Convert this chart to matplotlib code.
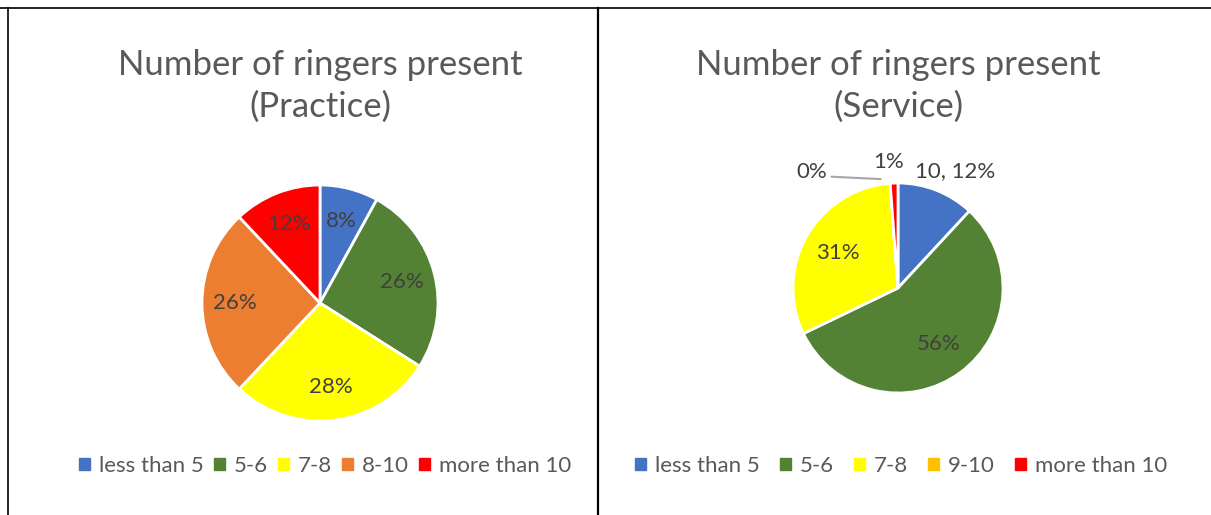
import matplotlib
matplotlib.use('Agg')
import matplotlib.pyplot as plt
from matplotlib.patches import Patch
from matplotlib.lines import Line2D
import numpy as np

plt.rcParams['font.family'] = ['Lato', 'DejaVu Sans']

# данные
categories_practice = ['less than 5', '5-6', '7-8', '8-10', 'more than 10']
values_practice = [8, 26, 28, 26, 12]
colors_practice = ['#4472C4', '#548235', '#FFFF00', '#ED7D31', '#FF0000']

categories_service = ['less than 5', '5-6', '7-8', '9-10', 'more than 10']
values_service = [10, 47, 26, 0, 1]
colors_service = ['#4472C4', '#548235', '#FFFF00', '#FFC000', '#FF0000']

W, H = 1211, 515
fig = plt.figure(figsize=(W / 100, H / 100), dpi=100)
txt = '#404040'
ttl = '#595959'
fs = 16


def px_axes(cx, cy, r):
    return fig.add_axes([(cx - r) / W, (H - cy - r) / H, 2 * r / W, 2 * r / H])


def mid(w):
    return np.deg2rad((w.theta1 + w.theta2) / 2)


# левая диаграмма
ax1 = px_axes(320, 303, 118)
w1, _ = ax1.pie(values_practice, colors=colors_practice, startangle=90, counterclock=False,
                wedgeprops=dict(edgecolor='white', linewidth=2), radius=1)
ax1.set_xlim(-1, 1)
ax1.set_ylim(-1, 1)
tot = sum(values_practice)
for w, v in zip(w1, values_practice):
    a = mid(w)
    ax1.text(0.72 * np.cos(a), 0.72 * np.sin(a), '%d%%' % round(100 * v / tot),
             ha='center', va='center', fontsize=fs, color=txt)

# правая диаграмма
ax2 = px_axes(898, 288, 105)
w2, _ = ax2.pie(values_service, colors=colors_service, startangle=90, counterclock=False,
                wedgeprops=dict(edgecolor='white', linewidth=2), radius=1)
ax2.set_xlim(-1, 1)
ax2.set_ylim(-1, 1)
tot = sum(values_service)
pct = ['%d%%' % round(100 * v / tot) for v in values_service]
a = mid(w2[0])
ax2.text(1.28 * np.cos(a) + 0.08, 1.22 * np.sin(a) - 0.02, '%d, %s' % (values_service[0], pct[0]),
         ha='center', va='center', fontsize=fs, color=txt)
for i in (1, 2):
    a = mid(w2[i])
    ax2.text(0.66 * np.cos(a), 0.66 * np.sin(a), pct[i],
             ha='center', va='center', fontsize=fs, color=txt)
a = mid(w2[4])
ax2.text(1.22 * np.cos(a) - 0.04, 1.22 * np.sin(a) - 0.02, pct[4],
         ha='center', va='center', fontsize=fs, color=txt)
a = mid(w2[3])
ax2.annotate(pct[3], xy=(np.cos(a) - 0.09, np.sin(a) + 0.04), xytext=(-0.82, 1.1),
             ha='center', va='center', fontsize=fs, color=txt, annotation_clip=False,
             arrowprops=dict(arrowstyle='-', color='#A6A6A6', lw=1.5, shrinkA=1, shrinkB=0,
                             relpos=(1.0, 0.3)))
for ax in (ax1, ax2):
    ax.set_aspect('equal')
    ax.axis('off')

# заголовки
fig.text(320 / W, 1 - 86 / H, 'Number of ringers present\n(Practice)', ha='center', va='center',
         fontsize=25, color=ttl, linespacing=1.38)
fig.text(898 / W, 1 - 86 / H, 'Number of ringers present\n(Service)', ha='center', va='center',
         fontsize=25, color=ttl, linespacing=1.38)

# легенды
h1 = [Patch(color=c) for c in colors_practice]
fig.legend(h1, categories_practice, loc='center', bbox_to_anchor=(325 / W, 1 - 466 / H), ncol=5,
           frameon=False, fontsize=fs, labelcolor=ttl, handlelength=0.5, handleheight=0.5,
           handletextpad=0.4, columnspacing=0.45)
h2 = [Patch(color=c) for c in colors_service]
fig.legend(h2, categories_service, loc='center', bbox_to_anchor=(901 / W, 1 - 466 / H), ncol=5,
           frameon=False, fontsize=fs, labelcolor=ttl, handlelength=0.5, handleheight=0.5,
           handletextpad=0.4, columnspacing=0.9)

# рамки
def ln(x0, y0, x1, y1, lw=1.2):
    fig.add_artist(Line2D([x0 / W, x1 / W], [1 - y0 / H, 1 - y1 / H], color='black', lw=lw))


ln(0, 8, W, 8)
ln(8, 8, 8, H)
ln(598, 8, 598, H, lw=1.6)

fig.savefig('out.png', dpi=100)
